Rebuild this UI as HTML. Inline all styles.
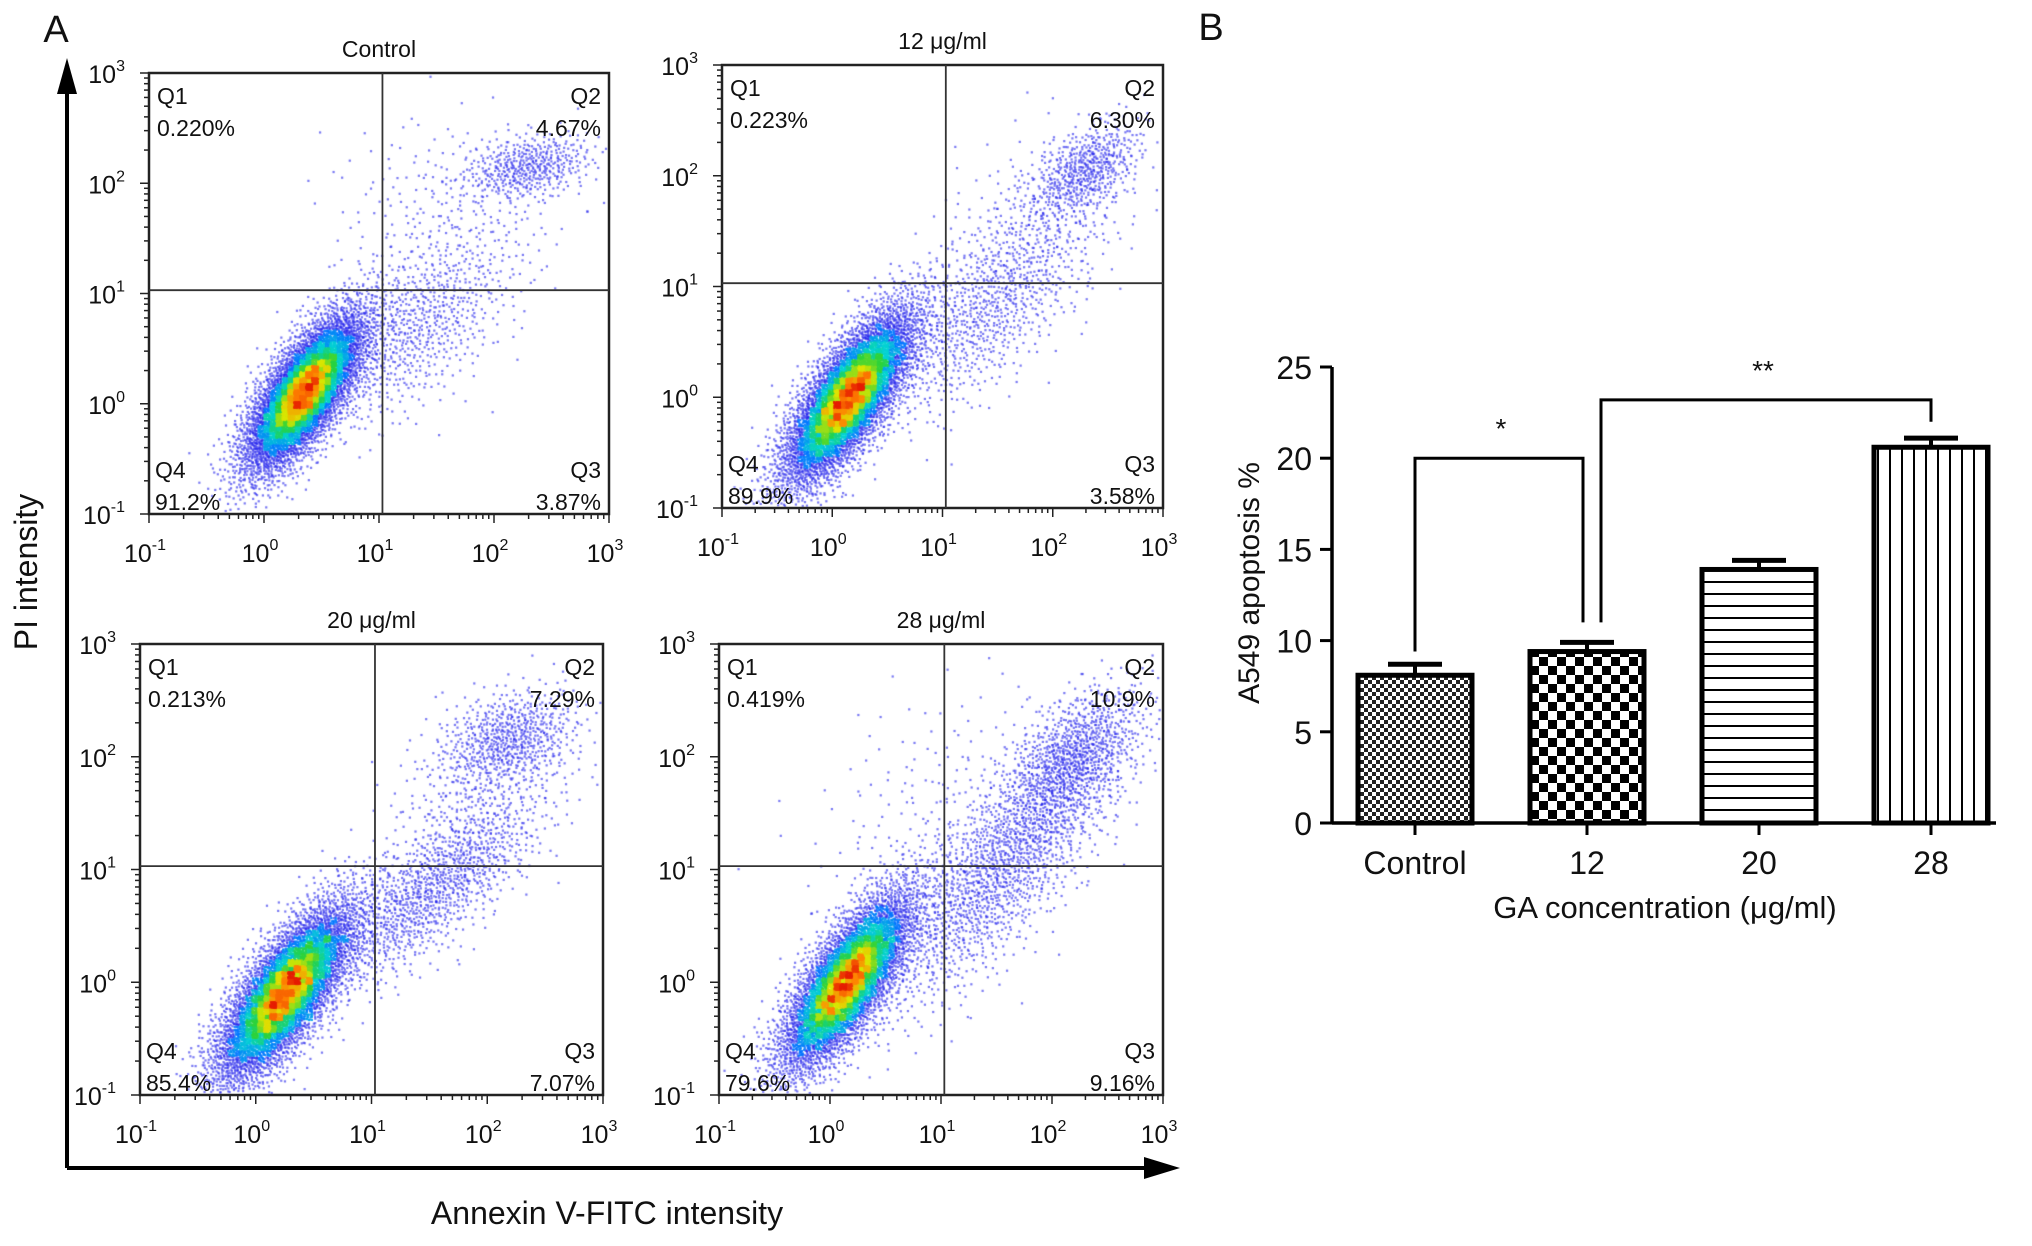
<!DOCTYPE html>
<html><head><meta charset="utf-8"><style>
html,body{margin:0;padding:0;background:#fff;}
#root{position:relative;width:2032px;height:1246px;overflow:hidden;font-family:"Liberation Sans",sans-serif;}
canvas{position:absolute;left:0;top:0;}
svg{position:absolute;left:0;top:0;}
</style></head><body>
<div id="root">
<canvas id="dots" width="2032" height="1246"></canvas>
<svg id="svg" width="2032" height="1246" xmlns="http://www.w3.org/2000/svg">
<defs>
<pattern id="pCtrl" width="8" height="8" patternUnits="userSpaceOnUse"><rect width="8" height="8" fill="#fff"/><rect width="4" height="4" fill="#222"/><rect x="4" y="4" width="4" height="4" fill="#222"/></pattern>
<pattern id="p12" width="18" height="18" patternUnits="userSpaceOnUse"><rect width="18" height="18" fill="#fff"/><rect width="9" height="9" fill="#000"/><rect x="9" y="9" width="9" height="9" fill="#000"/></pattern>
<pattern id="p20" width="10" height="12" patternUnits="userSpaceOnUse"><rect width="10" height="12" fill="#fff"/><rect y="5" width="10" height="2" fill="#000"/></pattern>
<pattern id="p28" width="12" height="10" patternUnits="userSpaceOnUse"><rect width="12" height="10" fill="#fff"/><rect x="5" width="2" height="10" fill="#000"/></pattern>
</defs>
</svg>
</div>
<script>
// ---------- Panel B data ----------
const barCategories = ["Control","12","20","28"];
const barValues = [8.1, 9.4, 13.9, 20.6];
const barErrors = [0.6, 0.5, 0.5, 0.5];
const barTicks = [0,5,10,15,20,25];
// ---------- Panel A data ----------
const flowTitles = ["Control","12 \u03bcg/ml","20 \u03bcg/ml","28 \u03bcg/ml"];
const q1Values = ["0.220%","0.223%","0.213%","0.419%"];
const q2Values = ["4.67%","6.30%","7.29%","10.9%"];
const q3Values = ["3.87%","3.58%","7.07%","9.16%"];
const q4Values = ["91.2%","89.9%","85.4%","79.6%"];
const flowTicks = [-1,0,1,2,3];
// clusters: [logX, logY, sdX, sdY, rho, count]
const clustersControl = [[0.35,0.1,0.26,0.36,0.72,6500],[1.3,0.7,0.45,0.45,0.6,800],[2.3,2.15,0.28,0.15,0.3,450],[1.6,1.8,0.5,0.4,0,200]];
const clusters12 = [[0.15,0.0,0.3,0.4,0.75,6500],[1.4,0.8,0.5,0.5,0.7,900],[2.3,2.05,0.25,0.22,0.5,550],[1.8,1.6,0.4,0.4,0.3,200]];
const clusters20 = [[0.25,-0.1,0.3,0.4,0.75,6300],[1.5,0.8,0.5,0.45,0.8,1200],[2.2,2.15,0.3,0.22,0.3,650],[1.8,1.6,0.35,0.45,0.4,250]];
const clusters28 = [[0.15,0.0,0.3,0.4,0.75,5800],[1.6,1.1,0.55,0.65,0.8,1800],[2.2,2.0,0.3,0.3,0.5,800],[1.0,1.5,0.6,0.6,0.3,200]];
const flowClusters = [clustersControl, clusters12, clusters20, clusters28];

const svg = document.getElementById('svg');
const NS = "http://www.w3.org/2000/svg";
function el(tag, attrs, parent){const e=document.createElementNS(NS,tag);for(const k in attrs)e.setAttribute(k,attrs[k]);(parent||svg).appendChild(e);return e;}
function txt(x,y,s,size,anchor,parent){const t=el('text',{x:x,y:y,'font-size':size,'text-anchor':anchor||'middle',fill:'#111','font-family':'Liberation Sans, sans-serif'},parent);t.textContent=s;return t;}

// ---------- Panel A ----------
const boxes=[[149,73,609,514],[722,65,1163,508],[140,644,603,1095],[719,644,1163,1095]];
const ctx=document.getElementById('dots').getContext('2d');
function halton(i,b){let f=1,r=0;while(i>0){f/=b;r+=f*(i%b);i=Math.floor(i/b);}return r;}
function jet(v){
  const c=[[30,30,235],[0,120,255],[0,210,210],[40,210,60],[220,230,0],[255,130,0],[230,30,0]];
  const p=v*(c.length-1),i=Math.min(Math.floor(p),c.length-2),f=p-i;
  return c[i].map((a,k)=>Math.round(a+(c[i+1][k]-a)*f));
}
let seq=1;
flowClusters.forEach((clusters,pi)=>{
  const [x0,y0,x1,y1]=boxes[pi];
  const sx=v=>x0+(v+1)/4*(x1-x0), sy=v=>y1-(v+1)/4*(y1-y0);
  const g=el('g',{});
  
  
  const pts=[];
  clusters.forEach(c=>{
    for(let i=0;i<c[5];i++){
      const u1=Math.max(halton(seq,2),1e-6),u2=halton(seq,3);seq++;
      const r=Math.sqrt(-2*Math.log(u1));const z1=r*Math.cos(2*Math.PI*u2),z2=r*Math.sin(2*Math.PI*u2);
      const lx=c[0]+c[2]*z1, ly=c[1]+c[3]*(c[4]*z1+Math.sqrt(1-c[4]*c[4])*z2);
      const px=sx(lx),py=sy(ly);
      if(px>x0+2&&px<x1-2&&py>y0+2&&py<y1-2)pts.push([px,py]);
    }
  });
  const B=6,grid={};
  pts.forEach(p=>{const k=Math.floor(p[0]/B)+','+Math.floor(p[1]/B);grid[k]=(grid[k]||0)+1;});
  let mx=0;for(const k in grid)mx=Math.max(mx,grid[k]);
  pts.sort((a,b)=>grid[Math.floor(a[0]/B)+','+Math.floor(a[1]/B)]-grid[Math.floor(b[0]/B)+','+Math.floor(b[1]/B)]);
  pts.forEach(p=>{
    const d=grid[Math.floor(p[0]/B)+','+Math.floor(p[1]/B)]/mx;
    let v=Math.min(1,Math.pow(d,1.6)*1.05);
    const low=d<0.3;
    const c=jet(low?0:v);
    ctx.fillStyle=`rgba(${c[0]},${c[1]},${c[2]},${low?0.6:0.9})`;
    ctx.fillRect(p[0]-1,p[1]-1,2.2,2.2);
  });
  el('rect',{x:x0,y:y0,width:x1-x0,height:y1-y0,fill:'none',stroke:'#222','stroke-width':2.5},g);
  const qx=sx(1.03),qy=sy(1.03);
  const vl=el('line',{x1:qx,y1:y0,x2:qx,y2:y1,stroke:'#333','stroke-width':1.8},g);
  
  const hl=el('line',{x1:x0,y1:qy,x2:x1,y2:qy,stroke:'#333','stroke-width':1.8},g);
  
  flowTicks.forEach(t=>{
    for(let m=1;m<10;m++){
      const lv=t+Math.log10(m); if(lv>3)break;
      const len=m===1?9:5;
      el('line',{x1:sx(lv),y1:y1,x2:sx(lv),y2:y1+len,stroke:'#222','stroke-width':1.5},g);
      el('line',{x1:x0,y1:sy(lv),x2:x0-len,y2:sy(lv),stroke:'#222','stroke-width':1.5},g);
      if(t===3)break;
    }
    const tx=txt(sx(t)-4,y1+48,'10',25,'middle',g);
    const sp=el('tspan',{dy:-12,'font-size':16},tx);sp.textContent=String(t);
    const ty=txt(x0-14,sy(t)+10,'10',25,'end',g);
    ty.setAttribute('dx',-10);
    const sp2=el('tspan',{dy:-12,'font-size':16},ty);sp2.textContent=String(t);
  });
  const title=txt((x0+x1)/2,y0-16,flowTitles[pi],23,'middle',g);
  
  txt(x0+8,y0+31,'Q1',23,'start',g);txt(x0+8,y0+63,q1Values[pi],23,'start',g);
  txt(x1-8,y0+31,'Q2',23,'end',g);txt(x1-8,y0+63,q2Values[pi],23,'end',g);
  txt(x0+6,y1-36,'Q4',23,'start',g);txt(x0+6,y1-4,q4Values[pi],23,'start',g);
  txt(x1-8,y1-36,'Q3',23,'end',g);txt(x1-8,y1-4,q3Values[pi],23,'end',g);
});
const ax=el('g',{});

el('line',{x1:67,y1:1168,x2:67,y2:90,stroke:'#000','stroke-width':4},ax);
el('polygon',{points:'67,58 57,94 77,94',fill:'#000'},ax);
el('line',{x1:67,y1:1168,x2:1145,y2:1168,stroke:'#000','stroke-width':4},ax);
el('polygon',{points:'1180,1168 1144,1157 1144,1179',fill:'#000'},ax);
const pil=txt(0,0,'PI intensity',32,'middle',ax);pil.setAttribute('transform','translate(37,572) rotate(-90)');

const anx=txt(607,1224,'Annexin V-FITC intensity',32,'middle',ax);

const la=txt(56,42,'A',38,'middle');
const lb=txt(1211,40,'B',38,'middle');

// ---------- Panel B ----------
const bx0=1332,bxEnd=1996,by0=823,byMax=367,vmax=25;
const yS=v=>by0-(v/vmax)*(by0-byMax);
const centers=[1415,1588,1760,1931];
const xS=i=>centers[0]+i*(centers[3]-centers[0])/3;
const bw=114;
const fills=['url(#pCtrl)','url(#p12)','url(#p20)','url(#p28)'];
const gb=el('g',{});

barValues.forEach((v,i)=>{
  const x=xS(i);
  el('line',{x1:x,y1:yS(v),x2:x,y2:yS(v+barErrors[i]),stroke:'#000','stroke-width':4},gb);
  const cap=el('line',{x1:x-27,y1:yS(v+barErrors[i]),x2:x+27,y2:yS(v+barErrors[i]),stroke:'#000','stroke-width':5},gb);
  
  const r=el('rect',{x:x-bw/2,y:yS(v),width:bw,height:by0-yS(v),fill:fills[i],stroke:'#000','stroke-width':5},gb);
  
  
  el('line',{x1:x,y1:by0,x2:x,y2:by0+12,stroke:'#000','stroke-width':3},gb);
  const t=txt(x,by0+51,barCategories[i],32,'middle',gb);
  
});
el('line',{x1:bx0,y1:by0,x2:bxEnd,y2:by0,stroke:'#000','stroke-width':3.5},gb);
el('line',{x1:bx0,y1:by0,x2:bx0,y2:byMax,stroke:'#000','stroke-width':3.5},gb);
barTicks.forEach(t=>{
  el('line',{x1:bx0-12,y1:yS(t),x2:bx0,y2:yS(t),stroke:'#000','stroke-width':3},gb);
  const lab=txt(bx0-20,yS(t)+12,String(t),32,'end',gb);
  
});
const yt=txt(0,0,'A549 apoptosis %',30,'middle',gb);yt.setAttribute('transform','translate(1259,583) rotate(-90)');

const xt=txt(1665,918,'GA concentration (\u03bcg/ml)',31,'middle',gb);

const s1=el('polyline',{points:`${xS(0)},${yS(9.4)} ${xS(0)},${yS(20)} ${xS(1)-4},${yS(20)} ${xS(1)-4},${yS(11)}`,fill:'none',stroke:'#000','stroke-width':3},gb);

txt((xS(0)+xS(1))/2,yS(21.1),'*',28,'middle',gb);
const s2=el('polyline',{points:`${xS(1)+14},${yS(11)} ${xS(1)+14},${yS(23.2)} ${xS(3)},${yS(23.2)} ${xS(3)},${yS(22)}`,fill:'none',stroke:'#000','stroke-width':3},gb);

txt((xS(1)+xS(3))/2+4,yS(24.3),'**',28,'middle',gb);
</script>
</body></html>
